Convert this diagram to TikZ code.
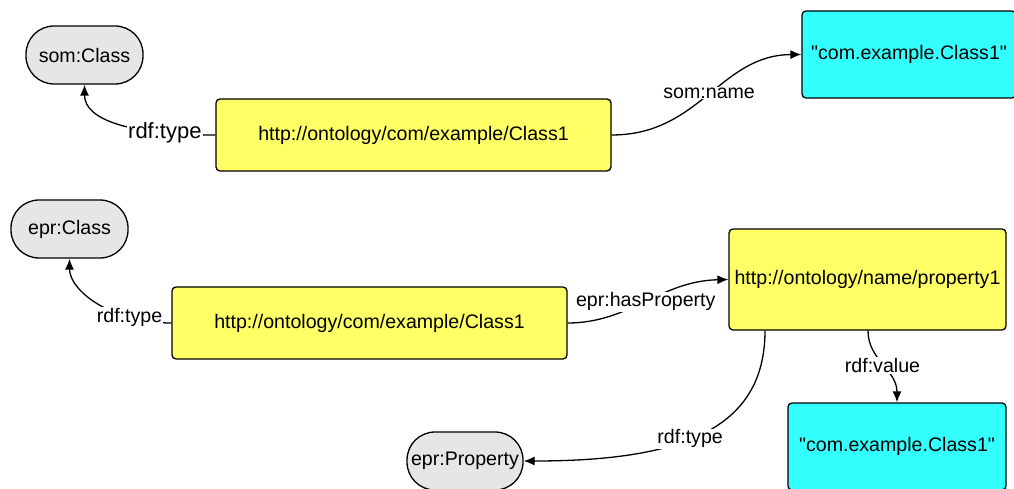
\documentclass[tikz,border=0pt]{standalone}
\usepackage{fontspec}
\setmainfont{Liberation Sans}[Ligatures=TeXOff]
\usetikzlibrary{arrows.meta}
\definecolor{resyellow}{RGB}{255,255,102}
\definecolor{litcyan}{RGB}{51,255,255}
\definecolor{clsgrey}{RGB}{230,230,230}
\tikzset{
  base/.style={draw=black, line width=1.3pt, font=\fontsize{19.6}{22}\selectfont, inner sep=0pt},
  resource/.style={base, fill=resyellow, rounded corners=4pt},
  literal/.style={base, fill=litcyan, rounded corners=4pt},
  classpill/.style={base, fill=clsgrey, rounded corners=28pt},
  link/.style={line width=1.3pt, -{Latex[length=11pt,width=9pt]}},
  lbl/.style={fill=white, inner sep=1pt, font=\fontsize{19.6}{22}\selectfont},
}
\begin{document}
\begin{tikzpicture}[x=1pt, y=-1pt]
\useasboundingbox (0,0) rectangle (1014,489);

% upper graph
\node[classpill, minimum width=117pt, minimum height=58pt] (somcls) at (84.5,55) {som:Class};
\node[resource, minimum width=395pt, minimum height=72pt] (cls1) at (413.5,135) {http://ontology/com/example/Class1};
\node[literal, minimum width=214pt, minimum height=87pt] (lit1) at (909,54.5) {"com.example.Class1"};

% lower graph
\node[classpill, minimum width=117pt, minimum height=58pt] (eprcls) at (69.5,229) {epr:Class};
\node[resource, minimum width=395pt, minimum height=72pt] (cls2) at (369.5,323) {http://ontology/com/example/Class1};
\node[resource, minimum width=277pt, minimum height=101pt] (prop) at (867.5,279.5) {http://ontology/name/property1};
\node[classpill, minimum width=116pt, minimum height=58pt] (eprprop) at (465,461) {epr:Property};
\node[literal, minimum width=218pt, minimum height=87pt] (lit2) at (897,446.5) {"com.example.Class1"};

\coordinate (propA) at ([xshift=-102.5pt]prop.south);
\coordinate (propB) at ([xshift=0.5pt]prop.south);

% upper connectors
\draw[link] (cls1.west) .. controls (130,135) and (84.5,120) .. (somcls.south)
  node[lbl, pos=0.22, font=\fontsize{22}{25}\selectfont] {rdf:type};
\draw[link] (cls1.east) .. controls (700,135) and (720,55) .. (lit1.west)
  node[lbl, pos=0.5, yshift=2pt] {som:name};

% lower connectors
\draw[link] (cls2.west) .. controls (110,323) and (69.5,290) .. (eprcls.south)
  node[lbl, pos=0.25] {rdf:type};
\draw[link] (cls2.east) .. controls (630,323) and (660,281) .. (prop.west)
  node[lbl, pos=0.5] {epr:hasProperty};
\draw[link] (propB) .. controls (868,360) and (897,370) .. (lit2.north)
  node[lbl, pos=0.5] {rdf:value};
\draw[link] (propA) .. controls (765,430) and (680,461) .. (eprprop.east)
  node[lbl, pos=0.55] {rdf:type};
\end{tikzpicture}
\end{document}
